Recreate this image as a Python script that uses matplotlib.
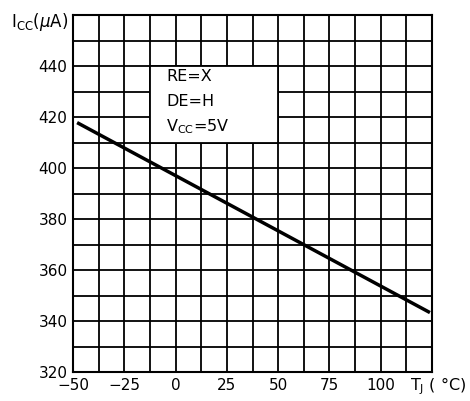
import matplotlib.pyplot as plt
import matplotlib.patches as patches

# Data
temps = [-48, 124]
icc = [417.8, 343.3]

x_ticks = [-50, -25, 0, 25, 50, 75, 100]
x_tick_labels = ['\u221250', '\u221225', '0', '25', '50', '75', '100']
y_ticks = [320, 340, 360, 380, 400, 420, 440]
y_tick_labels = ['320', '340', '360', '380', '400', '420', '440']

conditions = ['RE=X', 'DE=H', r'V$_{\mathregular{CC}}$=5V']

plt.rcParams['font.family'] = 'DejaVu Sans'

fig = plt.figure(figsize=(4.70, 4.01), dpi=100)
ax = fig.add_axes([73 / 470, 29 / 401, 359 / 470, 357 / 401])

ax.set_xlim(-50, 125)
ax.set_ylim(320, 460)

# Grid every 12.5 degC and 10 uA
for i in range(1, 14):
    ax.axvline(-50 + 12.5 * i, color='black', linewidth=1.3, zorder=1)
    ax.axhline(320 + 10 * i, color='black', linewidth=1.3, zorder=1)

for s in ax.spines.values():
    s.set_linewidth(1.5)

# White box holding the test conditions
box = patches.Rectangle((-12.5, 410), 62.5, 30, facecolor='white',
                        edgecolor='black', linewidth=1.3, zorder=2)
ax.add_patch(box)
for k, txt in enumerate(conditions):
    ax.text(-4.5, 435.7 - k * 9.8, txt, fontsize=11.5, va='center', ha='left', zorder=3)

ax.plot(temps, icc, color='black', linewidth=2.5, solid_capstyle='butt', zorder=4)

ax.set_xticks(x_ticks)
ax.set_xticklabels(x_tick_labels, fontsize=11)
ax.set_yticks(y_ticks)
ax.set_yticklabels(y_tick_labels, fontsize=11)
ax.tick_params(length=0, pad=4)

fig.text(68 / 470, 1 - 22 / 401, r'I$_{\mathregular{CC}}$($\mu$A)', fontsize=12,
         ha='right', va='center')
fig.text(438 / 470, 1 - 386 / 401, r'T$_{\mathregular{J}}$ ( $\degree$C)', fontsize=11.5,
         ha='center', va='center')

fig.savefig('out.png', dpi=100)
